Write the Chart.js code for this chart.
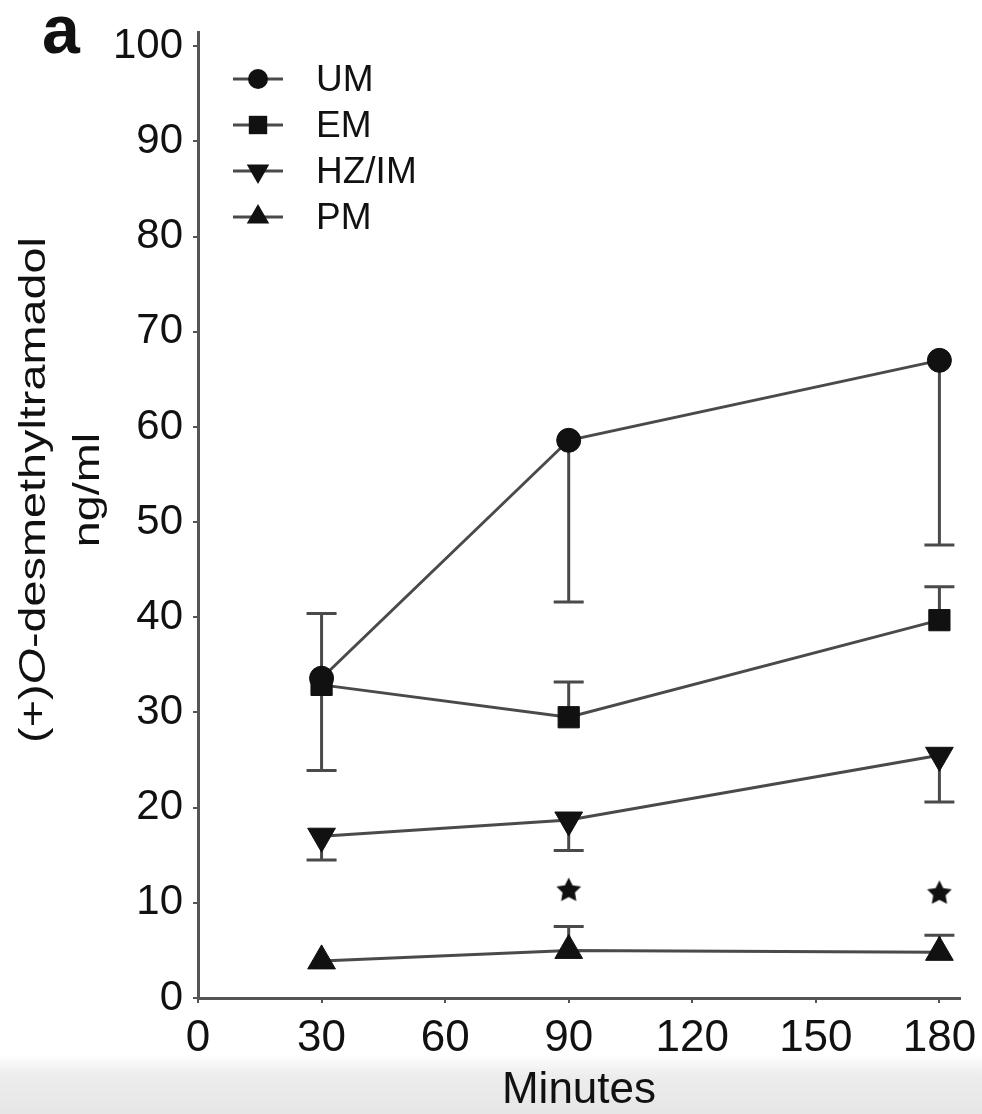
<!DOCTYPE html>
<html>
<head>
<meta charset="utf-8">
<script src="https://cdn.jsdelivr.net/npm/chart.js@4.4.0/dist/chart.umd.min.js"></script>
<style>
  html, body { margin: 0; padding: 0; background: #fff; }
</style>
</head>
<body>
<canvas id="line-chart" width="982" height="1114"></canvas>
<script>
var minutes = [30, 90, 180];
var um = [33.6, 58.6, 67.0];
var em = [32.9, 29.5, 39.7];
var hz = [17.0, 18.7, 25.5];
var pm = [3.9, 5.0, 4.8];

// error bar ends, one-sided like in the figure
var umLow = [23.9, 41.6, 47.6];
var emHigh = [40.4, 33.2, 43.2];
var hzLow = [14.5, 15.5, 20.6];
var pmHigh = [null, 7.5, 6.6];

// significance stars
var starMinutes = [90, 180];
var starLevel = [11.4, 11.1];

var xTicks = [0, 30, 60, 90, 120, 150, 180];
var yTicks = [0, 10, 20, 30, 40, 50, 60, 70, 80, 90, 100];

var FONT = "'Liberation Sans', Arial, Helvetica, sans-serif";
var INK = '#111111';
var LINE = '#4a4a4a';

function pts(vals){
    var out = [];
    for(var i = 0; i < minutes.length; i++){
        out.push({x: minutes[i], y: vals[i]});
    }
    return out;
}

function makeStar(size){
    var c = document.createElement('canvas');
    c.width = size; c.height = size;
    var g = c.getContext('2d');
    var R = size / 2, r = R * 0.5;
    g.beginPath();
    for(var k = 0; k < 10; k++){
        var rad = k % 2 === 0 ? R : r;
        var ang = -Math.PI / 2 + k * Math.PI / 5;
        g.lineTo(R + Math.cos(ang) * rad, R + 1 + Math.sin(ang) * rad);
    }
    g.closePath();
    g.fillStyle = INK;
    g.fill();
    return c;
}

var starPts = [];
for(var i = 0; i < starMinutes.length; i++){
    starPts.push({x: starMinutes[i], y: starLevel[i]});
}

function drawMarker(ctx, style, x, y, r, rot){
    ctx.beginPath();
    if(style === 'circle'){
        ctx.arc(x, y, r, 0, Math.PI * 2);
    } else if(style === 'rect'){
        var s = r * Math.SQRT1_2;
        ctx.rect(x - s, y - s, 2 * s, 2 * s);
    } else {
        var a = rot ? Math.PI : 0;
        for(var k = 0; k < 3; k++){
            var ang = a + k * 2 * Math.PI / 3;
            ctx.lineTo(x + Math.sin(ang) * r, y - Math.cos(ang) * r);
        }
    }
    ctx.closePath();
    ctx.fill();
}

var background = {
    id: 'background',
    beforeDraw: function(chart){
        var ctx = chart.ctx;
        ctx.save();
        ctx.fillStyle = '#ffffff';
        ctx.fillRect(0, 0, chart.width, chart.height);
        var g = ctx.createLinearGradient(0, 1055, 0, 1114);
        g.addColorStop(0, 'rgba(236,236,236,0)');
        g.addColorStop(0.35, '#ededed');
        g.addColorStop(1, '#e6e6e6');
        ctx.fillStyle = g;
        ctx.fillRect(0, 1055, chart.width, chart.height - 1055);
        ctx.restore();
    }
};

var errorBars = {
    id: 'errorBars',
    beforeDatasetsDraw: function(chart){
        var ctx = chart.ctx;
        var xs = chart.scales.x, ys = chart.scales.y;
        ctx.save();
        ctx.strokeStyle = LINE;
        ctx.lineWidth = 3;
        chart.data.datasets.forEach(function(ds){
            if(!ds.errEnd) return;
            for(var j = 0; j < minutes.length; j++){
                if(ds.errEnd[j] === null) continue;
                var x = xs.getPixelForValue(minutes[j]);
                var y0 = ys.getPixelForValue(ds.data[j].y);
                var y1 = ys.getPixelForValue(ds.errEnd[j]);
                ctx.beginPath();
                ctx.moveTo(x, y0); ctx.lineTo(x, y1);
                ctx.moveTo(x - 15, y1); ctx.lineTo(x + 15, y1);
                ctx.stroke();
            }
        });
        ctx.restore();
    }
};

var labels = {
    id: 'labels',
    afterDraw: function(chart){
        var ctx = chart.ctx, a = chart.chartArea;
        ctx.save();
        ctx.fillStyle = INK;

        // panel letter
        ctx.font = 'bold 68px ' + FONT;
        ctx.textBaseline = 'alphabetic';
        ctx.fillText('a', 42, 53);

        // y axis title, two lines
        var cy = (a.top + a.bottom) / 2 - 25;
        var parts = [['(+)', ''], ['O', 'italic '], ['-desmethyltramadol', '']];
        ctx.save();
        ctx.translate(45, cy);
        ctx.rotate(-Math.PI / 2);
        ctx.scale(1.3, 1);
        var total = 0;
        parts.forEach(function(p){ ctx.font = p[1] + '36px ' + FONT; total += ctx.measureText(p[0]).width; });
        var px = -total / 2;
        ctx.textAlign = 'left';
        parts.forEach(function(p){
            ctx.font = p[1] + '36px ' + FONT;
            ctx.fillText(p[0], px, 0);
            px += ctx.measureText(p[0]).width;
        });
        ctx.restore();

        ctx.save();
        ctx.translate(99, cy);
        ctx.rotate(-Math.PI / 2);
        ctx.scale(1.3, 1);
        ctx.font = '36px ' + FONT;
        ctx.textAlign = 'center';
        ctx.fillText('ng/ml', 0, 0);
        ctx.restore();

        // legend
        var sets = chart.data.datasets;
        for(var i = 0; i < 4; i++){
            var ds = sets[i];
            var y = a.top + 47 + i * 46;
            var mx = a.left + 60;
            ctx.strokeStyle = LINE;
            ctx.lineWidth = 3;
            ctx.beginPath();
            ctx.moveTo(a.left + 35, y); ctx.lineTo(a.left + 85, y);
            ctx.stroke();
            ctx.fillStyle = INK;
            var r = ds.pointStyle === 'circle' ? 10 : 13;
            drawMarker(ctx, ds.pointStyle, mx, y, r, ds.pointRotation === 180);
            ctx.font = '37px ' + FONT;
            ctx.textAlign = 'left';
            ctx.textBaseline = 'middle';
            ctx.fillText(ds.label, a.left + 118, y + 2);
        }
        ctx.restore();
    }
};

function series(label, vals, style, radius, errEnd, rot){
    return {
        label: label,
        data: pts(vals),
        errEnd: errEnd,
        borderColor: LINE,
        borderWidth: 3,
        pointStyle: style,
        pointRotation: rot || 0,
        pointRadius: radius,
        pointHoverRadius: radius,
        pointBackgroundColor: INK,
        pointBorderColor: INK,
        pointBorderWidth: 1,
        tension: 0,
        fill: false
    };
}

new Chart(document.getElementById('line-chart'), {
    type: 'line',
    data: {
        datasets: [
            series('UM', um, 'circle', 12, umLow),
            series('EM', em, 'rect', 15, emHigh),
            series('HZ/IM', hz, 'triangle', 16, hzLow, 180),
            series('PM', pm, 'triangle', 16, pmHigh),
            {
                label: 'sig',
                data: starPts,
                showLine: false,
                pointStyle: makeStar(26),
                pointRadius: 12
            }
        ]
    },
    options: {
        responsive: false,
        animation: false,
        layout: { padding: { top: 32, right: 22, left: 0, bottom: 0 } },
        plugins: {
            legend: { display: false },
            tooltip: { enabled: false }
        },
        scales: {
            x: {
                type: 'linear',
                min: 0,
                max: 185,
                afterBuildTicks: function(scale){ scale.ticks = xTicks.map(function(v){ return {value: v}; }); },
                afterFit: function(scale){
                    scale.height = 116;
                    scale.paddingLeft = 0;
                    scale.paddingRight = 0;
                },
                grid: { drawOnChartArea: false, drawTicks: true, tickLength: 5, color: '#555', lineWidth: 2 },
                border: { display: true, color: '#555', width: 3 },
                ticks: { color: INK, padding: 9, maxRotation: 0, font: { family: FONT, size: 44 } },
                title: {
                    display: true,
                    text: 'Minutes',
                    color: INK,
                    font: { family: FONT, size: 44, lineHeight: 1 },
                    padding: { top: 0, bottom: 1 }
                }
            },
            y: {
                min: 0,
                max: 101.5,
                afterBuildTicks: function(scale){ scale.ticks = yTicks.map(function(v){ return {value: v}; }); },
                afterFit: function(scale){
                    scale.width = 198;
                    scale.paddingTop = 0;
                    scale.paddingBottom = 0;
                },
                grid: { drawOnChartArea: false, drawTicks: true, tickLength: 5, color: '#555', lineWidth: 2 },
                border: { display: true, color: '#555', width: 3 },
                ticks: { color: INK, padding: 10, font: { family: FONT, size: 42 } }
            }
        }
    },
    plugins: [background, errorBars, labels]
});
</script>
</body>
</html>
